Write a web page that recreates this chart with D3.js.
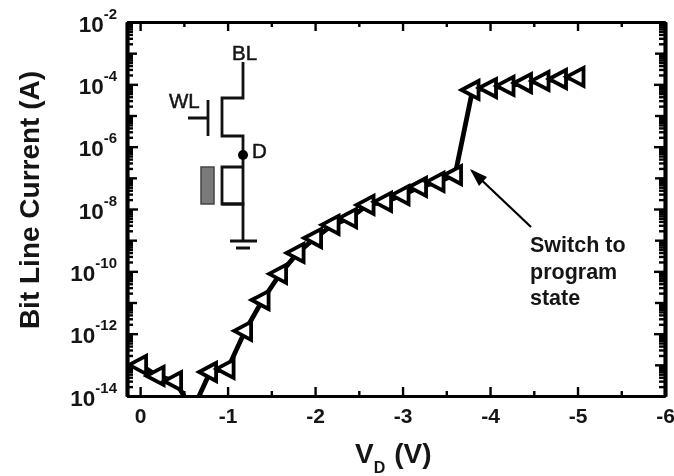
<!DOCTYPE html>
<html>
<head>
<meta charset="utf-8">
<script src="https://cdn.jsdelivr.net/npm/d3@7"></script>
<style>
html,body{margin:0;padding:0;background:#fff;overflow:hidden;}
svg{display:block;filter:blur(0.45px);}
text{font-family:"Liberation Sans",Arial,sans-serif;font-weight:bold;fill:#151515;}
</style>
</head>
<body>
<div id="chart"></div>
<script>
//values
var volts = [0,-0.2,-0.4,-0.6,-0.8,-1.0,-1.2,-1.4,-1.6,-1.8,-2.0,-2.2,-2.4,-2.6,-2.8,-3.0,-3.2,-3.4,-3.6,-3.8,-4.0,-4.2,-4.4,-4.6,-4.8,-5.0];
var current = [1e-13,4.4e-14,3e-14,3.5e-15,5.9e-14,7.4e-14,1.23e-12,1.2e-11,8.3e-11,3.9e-10,1.17e-9,3.1e-9,5.1e-9,1.35e-8,1.7e-8,2.8e-8,5.1e-8,7.4e-8,1.23e-7,6.6e-5,7.6e-5,8.9e-5,1.1e-4,1.29e-4,1.48e-4,1.74e-4];
var xTicks = [0,-1,-2,-3,-4,-5,-6];
var xMinorTicks = [-0.5,-1.5,-2.5,-3.5,-4.5,-5.5];
var yExponents = [-2,-4,-6,-8,-10,-12,-14];
var yOddExponents = [-3,-5,-7,-9,-11,-13];
var minorFactors = [2,3,4,5,6,7,8,9];
var annotationLines = ["Switch to","program","state"];

var width = 674, height = 476;
var left = 127, right = 665, top_ = 22, bottom = 396;

var svg = d3.select("#chart").append("svg").attr("width",width).attr("height",height);

var x = d3.scaleLinear().domain([0.15,-6]).range([left,right]);
var y = d3.scaleLog().domain([1e-14,1e-2]).range([bottom,top_]);

var yMajor = yExponents.map(function(e){return Math.pow(10,e);});
var yOdd = yOddExponents.map(function(e){return Math.pow(10,e);});
var yMinor = [];
for(var e = -14; e<-2; e++){
	minorFactors.forEach(function(f){ yMinor.push(f*Math.pow(10,e)); });
}

function styleAxis(g,w){
	g.selectAll("path").attr("stroke","#000").attr("stroke-width",w);
	g.selectAll("line").attr("stroke","#000").attr("stroke-width",2.4);
	return g;
}

//minor ticks first, the main axes on top
svg.append("g").attr("transform","translate("+left+",0)").call(d3.axisLeft(y).tickValues(yMinor).tickSize(-6).tickSizeOuter(0).tickFormat("")).call(styleAxis,3.5);
svg.append("g").attr("transform","translate("+right+",0)").call(d3.axisRight(y).tickValues(yMinor).tickSize(-6).tickSizeOuter(0).tickFormat("")).call(styleAxis,3.5);
svg.append("g").attr("transform","translate("+left+",0)").call(d3.axisLeft(y).tickValues(yOdd).tickSize(-10).tickSizeOuter(0).tickFormat("")).call(styleAxis,3.5);
svg.append("g").attr("transform","translate("+right+",0)").call(d3.axisRight(y).tickValues(yOdd).tickSize(-10).tickSizeOuter(0).tickFormat("")).call(styleAxis,3.5);
svg.append("g").attr("transform","translate("+right+",0)").call(d3.axisRight(y).tickValues(yMajor).tickSize(-11).tickSizeOuter(0).tickFormat("")).call(styleAxis,3.5);

var yAxis = svg.append("g").attr("transform","translate("+left+",0)")
	.call(d3.axisLeft(y).tickValues(yMajor).tickSize(-11).tickSizeOuter(0).tickPadding(0))
	.call(styleAxis,3.5);
yAxis.selectAll("text").each(function(d){
	var t = d3.select(this);
	var exp = Math.round(Math.log10(d));
	t.text(null).attr("x",-10).attr("y",9).attr("dy",null).attr("text-anchor","end").attr("fill",null).style("font-size","22.5px");
	t.append("tspan").text("10");
	t.append("tspan").attr("dy",-13).style("font-size","15px").text(exp);
});

svg.append("g").attr("transform","translate(0,"+bottom+")").call(d3.axisBottom(x).tickValues(xMinorTicks).tickSize(-5).tickSizeOuter(0).tickFormat("")).call(styleAxis,3);
svg.append("g").attr("transform","translate(0,"+top_+")").call(d3.axisTop(x).tickValues(xMinorTicks).tickSize(-5).tickSizeOuter(0).tickFormat("")).call(styleAxis,3);
svg.append("g").attr("transform","translate(0,"+top_+")").call(d3.axisTop(x).tickValues(xTicks).tickSize(-9).tickSizeOuter(0).tickFormat("")).call(styleAxis,3);

var xAxis = svg.append("g").attr("transform","translate(0,"+bottom+")")
	.call(d3.axisBottom(x).tickValues(xTicks).tickSize(-9).tickSizeOuter(0).tickFormat(d3.format("d")))
	.call(styleAxis,3);
xAxis.selectAll("text").attr("y",27).attr("dy",null).attr("fill",null).style("font-size","21px").text(function(d){return d===0 ? "0" : "-"+Math.abs(d);});

//data, clipped at the plot box
svg.append("clipPath").attr("id","plot-clip").append("rect")
	.attr("x",left).attr("y",top_).attr("width",right-left).attr("height",bottom-top_);

var plot = svg.append("g").attr("clip-path","url(#plot-clip)");

var line = d3.line()
	.x(function(d,i){return x(volts[i]);})
	.y(function(d){return y(d);});

plot.append("path").datum(current)
	.attr("d",line)
	.attr("fill","none")
	.attr("stroke","#000")
	.attr("stroke-width",4.8);

plot.selectAll("path.marker").data(current).enter().append("path")
	.attr("class","marker")
	.attr("d","M-11,0L6,-9L6,9Z")
	.attr("transform",function(d,i){return "translate("+x(volts[i])+","+y(d)+")";})
	.attr("fill","#fff")
	.attr("stroke","#000")
	.attr("stroke-width",3.8)
	.attr("stroke-linejoin","miter");

//axis titles
svg.append("text").attr("transform","translate(39,200) rotate(-90)")
	.attr("text-anchor","middle").style("font-size","28px").text("Bit Line Current (A)");

var xTitle = svg.append("text").attr("x",355).attr("y",463).style("font-size","28px");
xTitle.append("tspan").text("V");
xTitle.append("tspan").attr("dy",10).style("font-size","16px").text("D");
xTitle.append("tspan").attr("dy",-10).attr("dx",9).text("(V)");

//annotation
svg.append("line").attr("x1",531).attr("y1",227).attr("x2",472).attr("y2",171)
	.attr("stroke","#000").attr("stroke-width",2.2);
svg.append("path").attr("d","M470,169L487,177L479,186Z").attr("fill","#000");

svg.selectAll("text.note").data(annotationLines).enter().append("text")
	.attr("class","note")
	.attr("x",530)
	.attr("y",function(d,i){return 252+i*26.5;})
	.style("font-size","21.5px")
	.text(function(d){return d;});

//memory cell schematic
var schematic = svg.append("g").attr("fill","none").attr("stroke","#111").attr("stroke-width",2.8);
schematic.append("path").attr("d","M243,62V98H222V136H243V204H222V167H243");
schematic.append("path").attr("d","M222,204H243V241");
schematic.append("path").attr("d","M230,241H257M236,248H250");
schematic.append("path").attr("d","M208,100V136M188,118H208");
svg.append("rect").attr("x",201).attr("y",167).attr("width",13).attr("height",37)
	.attr("fill","#7a7a7a").attr("stroke","#444").attr("stroke-width",1.5);
svg.append("circle").attr("cx",243).attr("cy",155).attr("r",5).attr("fill","#000");
svg.append("text").attr("x",232).attr("y",60).style("font-size","20.5px").style("font-weight","normal").attr("stroke","#151515").attr("stroke-width",0.5).text("BL");
svg.append("text").attr("x",169).attr("y",108).style("font-size","20.5px").style("font-weight","normal").attr("stroke","#151515").attr("stroke-width",0.5).text("WL");
svg.append("text").attr("x",252).attr("y",158).style("font-size","20.5px").style("font-weight","normal").attr("stroke","#151515").attr("stroke-width",0.5).text("D");
</script>
</body>
</html>
